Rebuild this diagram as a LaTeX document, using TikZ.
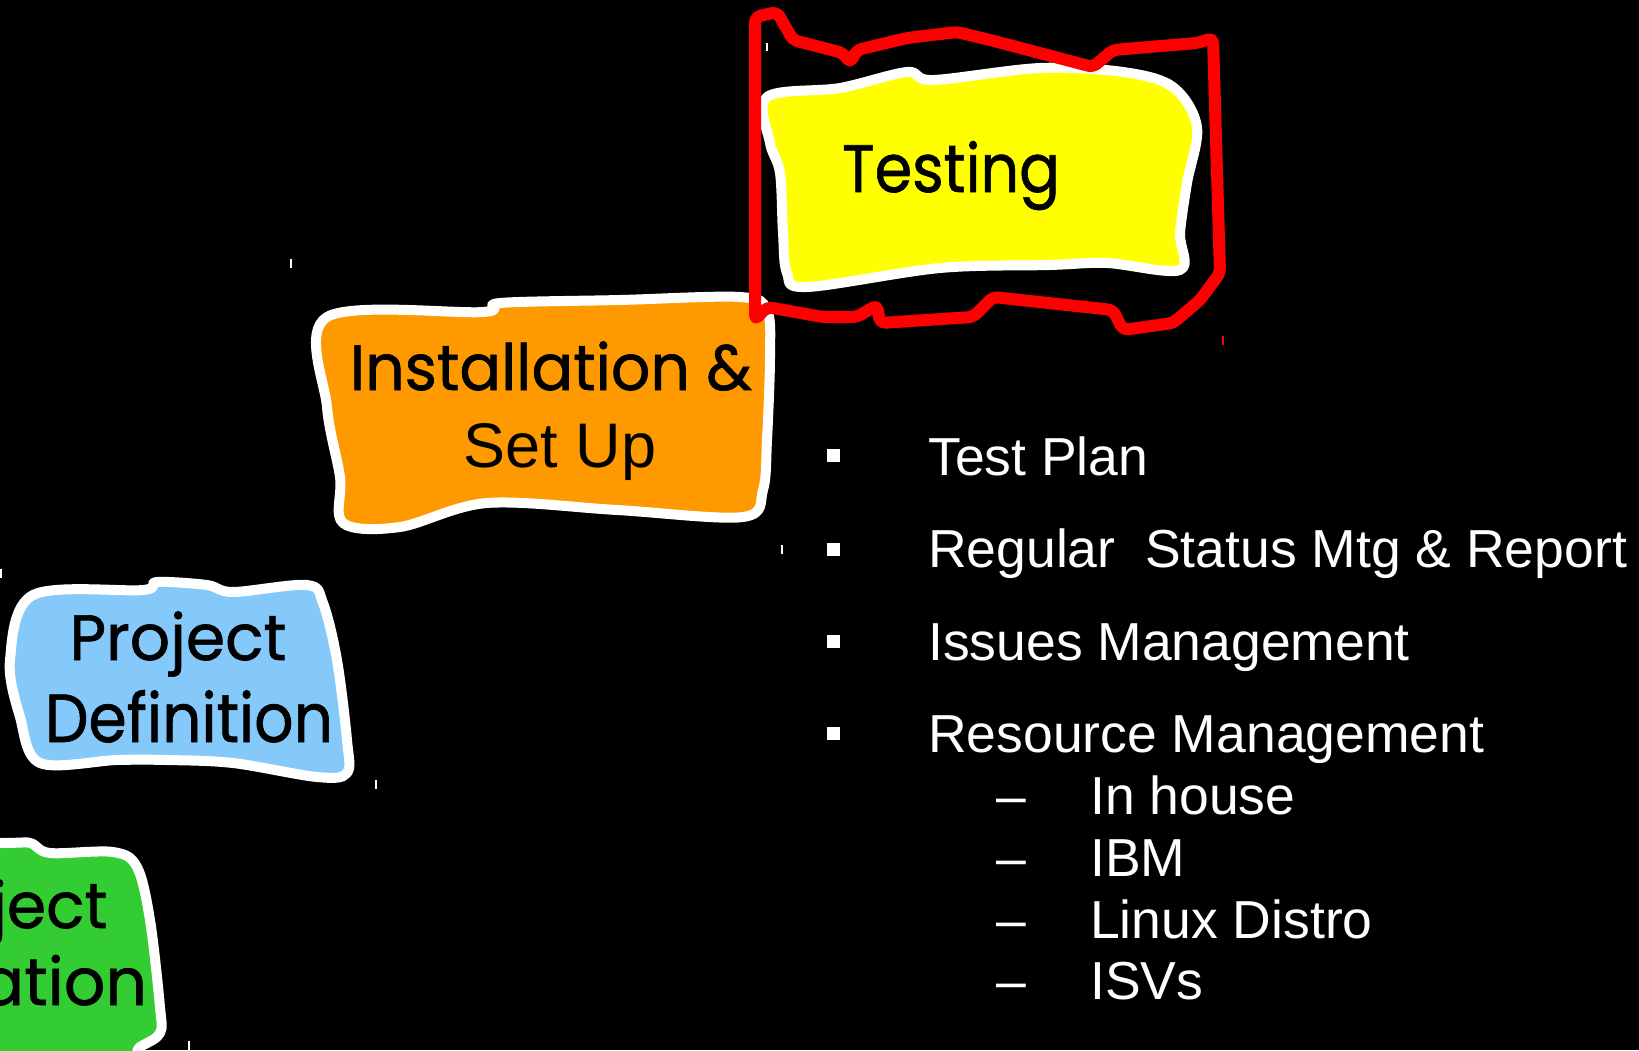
\documentclass[tikz,border=0pt]{standalone}
\usepackage{fontspec}
\setmainfont{Liberation Sans}
\newfontfamily\handfont[FakeBold=1]{Poppins}
\newcommand{\fitto}[2]{\resizebox{#1}{\height}{#2}}
\definecolor{stepyellow}{RGB}{255,255,0}
\definecolor{steporange}{RGB}{255,153,0}
\definecolor{stepblue}{RGB}{133,200,250}
\definecolor{stepgreen}{RGB}{51,204,51}
\tikzset{
  blob/.style={draw=white, line width=10pt, line join=round},
  frame/.style={draw=red, line width=12pt, line join=round, line cap=round, rounded corners=5pt},
  hand/.style={inner sep=0pt, anchor=base, font=\handfont, text=black},
  plain/.style={inner sep=0pt, anchor=base, text=black},
  item/.style={inner sep=0pt, anchor=base west, text=white, font=\fontsize{53.5}{60}\selectfont},
  sq/.style={fill=white, minimum size=13pt, inner sep=0pt},
  speck/.style={draw=white, line width=1.2pt}
}
\begin{document}
\begin{tikzpicture}[x=1pt, y=-1pt]
  \useasboundingbox (0,0) rectangle (1639,1050);
  \fill[black] (0,0) rectangle (1639,1050);
  \clip (0,0) rectangle (1639,1050);

  % green step (partly outside the page)
  \path[blob, fill=stepgreen] plot[smooth cycle, tension=0.55] coordinates {
    (-200,845) (0,843) (30,843) (50,853) (113,852) (137,867) (150,920)
    (160,1007) (160,1033) (140,1047) (100,1070) (-200,1070)};
  \node[hand] (ini1) at (-1,928) {\fitto{217pt}{\fontsize{64}{70}\selectfont Project}};
  \node[hand] (ini2) at (7,1005) {\fitto{280pt}{\fontsize{66}{70}\selectfont Initiation}};

  % blue step
  \path[blob, fill=stepblue] plot[smooth cycle, tension=0.55] coordinates {
    (33,595) (143,590) (157,582) (207,585) (233,592) (307,585) (323,603)
    (337,660) (347,740) (347,773) (317,777) (233,763) (167,760) (117,760)
    (40,763) (20,717) (10,660)};
  \node[hand] (def1) at (178,660) {\fitto{217pt}{\fontsize{64}{70}\selectfont Project}};
  \node[hand] (def2) at (189,742) {\fitto{288pt}{\fontsize{68}{70}\selectfont Definition}};

  % orange step
  \path[blob, fill=steporange] plot[smooth cycle, tension=0.55] coordinates {
    (327,317) (483,312) (500,303) (620,300) (740,297) (767,310) (770,357)
    (767,440) (763,490) (743,517) (617,510) (487,503) (400,527) (343,523)
    (340,477) (327,407)};
  \node[hand] (inst1) at (551,390) {\fitto{402pt}{\fontsize{64}{70}\selectfont Installation \&}};
  \node[plain] (inst2) at (560,467) {\fontsize{63}{70}\selectfont Set Up};

  % yellow step
  \path[blob, fill=stepyellow] plot[smooth cycle, tension=0.55] coordinates {
    (767,97) (840,88) (907,72) (933,80) (1040,68) (1123,72) (1173,87)
    (1197,127) (1187,183) (1180,233) (1180,270) (1107,263) (1050,265)
    (940,268) (807,287) (787,273) (783,233) (780,173) (770,143)};
  \node[hand] (test) at (951,192) {\fitto{218pt}{\fontsize{67}{70}\selectfont Testing}};

  % red highlight round the current step
  \draw[frame] (755,320) -- (755,17) -- (777,12) -- (793,40) -- (843,53)
    -- (850,63) -- (857,50) -- (907,38) -- (957,32) -- (990,40) -- (1093,67)
    -- (1113,50) -- (1197,43) -- (1213,38) -- (1220,273) -- (1200,300)
    -- (1173,323) -- (1123,330) -- (1113,310) -- (993,297) -- (973,317)
    -- (880,323) -- (877,305) -- (857,317) -- (823,317) -- (767,307) -- cycle;

  % bullet list
  \node[sq] (b1) at (833,455) {};
  \node[sq] (b2) at (833,549) {};
  \node[sq] (b3) at (833,641) {};
  \node[sq] (b4) at (833,733) {};
  \node[item] (t1) at (928,475) {Test Plan};
  \node[item] (t2) at (928,567) {Regular\ \ Status Mtg \& Report};
  \node[item] (t3) at (928,660) {Issues Management};
  \node[item] (t4) at (928,752) {Resource Management};

  \node[item] (d1) at (996,814) {–};
  \node[item] (d2) at (996,876) {–};
  \node[item] (d3) at (996,938) {–};
  \node[item] (d4) at (996,999) {–};
  \node[item] (s1) at (1090,814) {In house};
  \node[item] (s2) at (1090,876) {IBM};
  \node[item] (s3) at (1090,938) {Linux Distro};
  \node[item] (s4) at (1090,999) {ISVs};

  % stray marks
  \draw[speck] (291,259) -- (291,268);
  \draw[speck] (376,780) -- (376,789);
  \draw[speck] (782,545) -- (782,554);
  \draw[speck] (767,43) -- (767,51);
  \draw[speck] (1,569) -- (1,578);
  \draw[speck] (189,1041) -- (189,1050);
  \draw[draw=red, line width=1.2pt] (1223,336) -- (1223,345);
\end{tikzpicture}
\end{document}
